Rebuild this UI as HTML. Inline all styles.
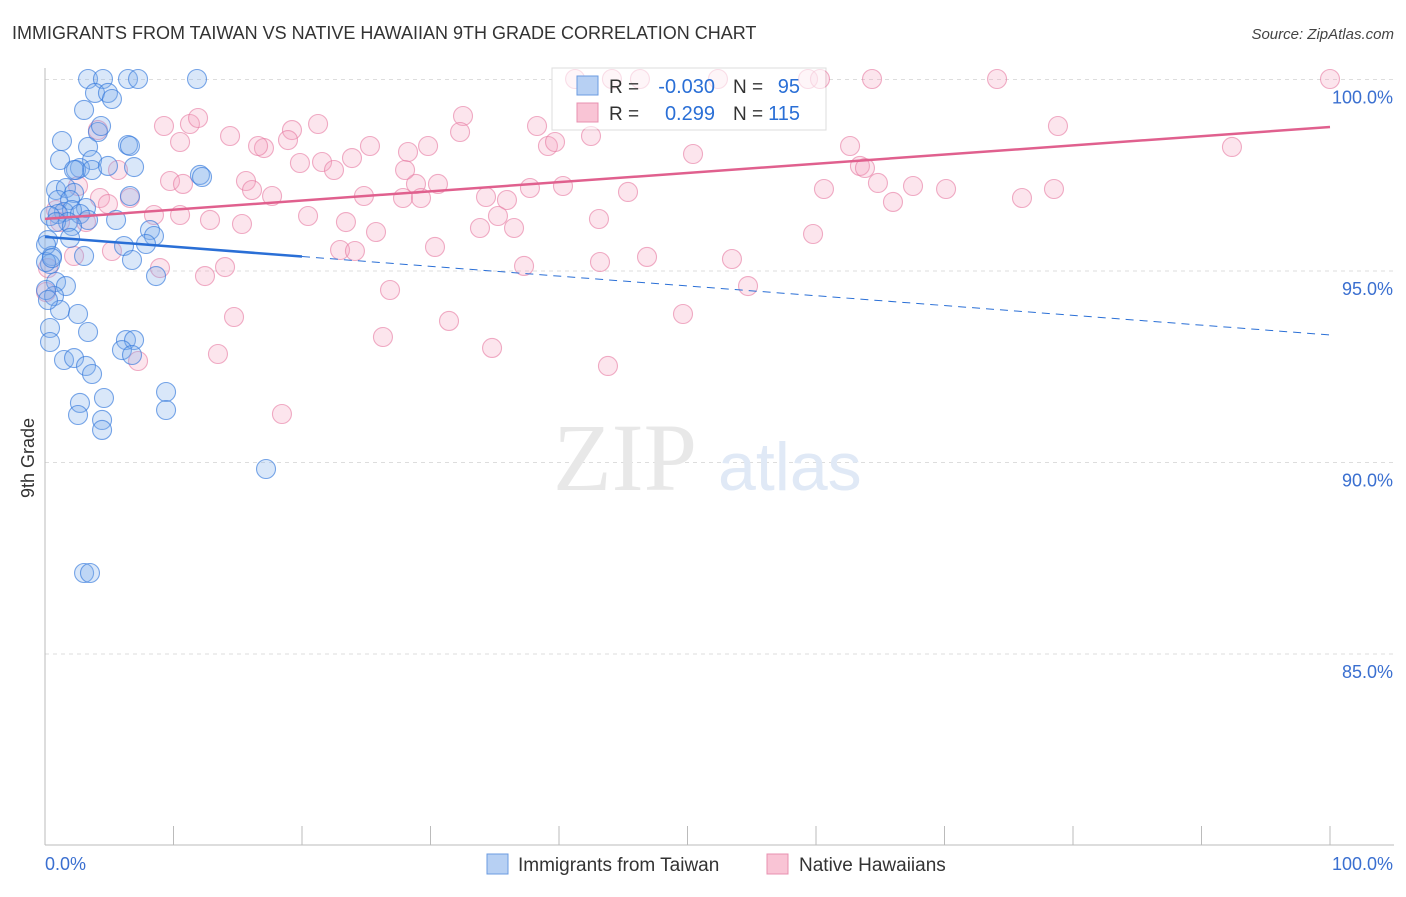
<!DOCTYPE html>
<html><head><meta charset="utf-8"><style>
body{margin:0;background:#fff;font-family:"Liberation Sans",sans-serif}
</style></head><body>
<svg id="c" width="1406" height="892" xmlns="http://www.w3.org/2000/svg"></svg>
<script>
const blueData=[[88,79],[103,79],[128,79],[138,79],[197,79],[95,93],[108,93],[112,99],[84,110],[98,132],[101,126],[62,141],[88,147],[128,145],[130,146],[60,160],[92,160],[80,168],[76,170],[92,170],[74,170],[108,166],[134,167],[200,175],[202,177],[56,190],[66,188],[74,193],[130,196],[58,200],[70,200],[86,208],[64,212],[72,210],[80,214],[58,214],[50,216],[68,222],[88,220],[116,220],[56,222],[72,226],[150,230],[154,236],[48,240],[70,238],[124,246],[146,244],[52,256],[84,256],[132,260],[50,264],[156,276],[56,282],[66,286],[54,296],[60,310],[78,314],[88,332],[50,328],[50,342],[64,360],[74,358],[86,366],[92,374],[126,340],[134,340],[122,350],[132,355],[80,403],[104,398],[78,415],[102,420],[166,392],[166,410],[102,430],[266,469],[84,573],[90,573],[46,290],[46,262],[46,245],[52,258],[48,300]].map(p=>[+((p[0]-45)/12.85).toFixed(2),+(100-(p[1]-79.5)/38.3).toFixed(3)]);
const pinkData=[[1330,79],[575,79],[612,79],[640,79],[718,79],[808,79],[820,79],[872,79],[997,79],[98,130],[164,126],[190,124],[198,118],[180,142],[230,136],[264,148],[292,130],[258,146],[288,140],[318,124],[370,146],[408,152],[428,146],[463,116],[460,132],[537,126],[548,146],[555,142],[591,136],[693,154],[850,146],[1058,126],[1232,147],[118,170],[170,181],[183,184],[246,181],[252,190],[272,196],[300,163],[322,162],[334,170],[352,158],[364,196],[416,184],[405,170],[438,184],[403,198],[421,198],[486,197],[507,200],[530,188],[563,186],[628,192],[860,166],[865,168],[878,183],[893,202],[913,186],[946,189],[1022,198],[1054,189],[824,189],[78,186],[100,198],[108,204],[130,198],[154,215],[180,215],[86,222],[210,220],[242,224],[308,216],[346,222],[376,232],[480,228],[498,216],[514,228],[599,219],[813,234],[112,251],[74,256],[160,268],[205,276],[225,267],[340,250],[355,251],[435,247],[524,266],[600,262],[647,257],[732,259],[748,286],[390,290],[234,317],[449,321],[683,314],[383,337],[492,348],[218,354],[138,361],[608,366],[282,414],[46,292],[48,268],[60,222],[56,210]].map(p=>[+((p[0]-45)/12.85).toFixed(2),+(100-(p[1]-79.5)/38.3).toFixed(3)]);
const yTicks=[100,95,90,85];
const yTickLabels=["100.0%","95.0%","90.0%","85.0%"];
const blueTrend=[95.89,93.33];
const pinkTrend=[96.36,98.76];

const X=v=>45+v*12.85, Y=v=>79.5+(100-v)*38.3;
const svg=document.getElementById('c'), NS='http://www.w3.org/2000/svg';
function mk(t,a,txt){const e=document.createElementNS(NS,t);for(const k in a)e.setAttribute(k,a[k]);if(txt!=null)e.textContent=txt;svg.appendChild(e);return e;}
let e;
e=mk('text',{x:12,y:39,'font-size':18,fill:'#333'},'IMMIGRANTS FROM TAIWAN VS NATIVE HAWAIIAN 9TH GRADE CORRELATION CHART');


e=mk('text',{x:1394,y:39,'font-size':15,fill:'#444','text-anchor':'end','font-style':'italic'},'Source: ZipAtlas.com');


yTicks.forEach((t,i)=>{
 e=mk('line',{x1:45,x2:1394,y1:Y(t),y2:Y(t),stroke:'#ddd','stroke-dasharray':'4,4'});
 
 
 e=mk('text',{x:1393,y:Y(t)+24,'font-size':18,fill:'#3a6fd0','text-anchor':'end'},yTickLabels[i]);
 
 
});
e=mk('line',{x1:45,x2:45,y1:68,y2:845,stroke:'#bbb'});


e=mk('line',{x1:45,x2:1394,y1:845,y2:845,stroke:'#bbb'});


for(let i=0;i<=10;i++){e=mk('line',{x1:X(i*10),x2:X(i*10),y1:826,y2:845,stroke:'#bbb'});
 
 }
e=mk('text',{x:45,y:870,'font-size':18,fill:'#3a6fd0'},'0.0%');


e=mk('text',{x:1393,y:870,'font-size':18,fill:'#3a6fd0','text-anchor':'end'},'100.0%');


e=mk('text',{x:34,y:458,'font-size':18,fill:'#333','text-anchor':'middle',transform:'rotate(-90 34 458)'},'9th Grade');


e=mk('text',{x:553,y:490,'font-size':96,fill:'#e8e8e8','font-family':'Liberation Serif'},'ZIP');


e=mk('text',{x:718,y:490,'font-size':68,fill:'#e0e9f6'},'atlas');


// legend box (behind points)
e=mk('rect',{x:552,y:68,width:274,height:62,fill:'#fff',stroke:'#ddd'});


pinkData.forEach(p=>{e=mk('circle',{cx:X(p[0]),cy:Y(p[1]),r:9.5,fill:'rgba(244,160,190,0.28)',stroke:'rgba(230,120,160,0.6)','stroke-width':1.1});
 
 });
blueData.forEach(p=>{e=mk('circle',{cx:X(p[0]),cy:Y(p[1]),r:9.5,fill:'rgba(130,175,235,0.3)',stroke:'rgba(50,120,220,0.65)','stroke-width':1.1});
 
 });
const bAt=x=>blueTrend[0]+(blueTrend[1]-blueTrend[0])*x/100;
e=mk('line',{x1:X(0),y1:Y(bAt(0)),x2:X(20),y2:Y(bAt(20)),stroke:'#2a6fd6','stroke-width':2.5});


e=mk('line',{x1:X(20),y1:Y(bAt(20)),x2:X(100),y2:Y(bAt(100)),stroke:'#2a6fd6','stroke-width':1,'stroke-dasharray':'8,6'});


e=mk('line',{x1:X(0),y1:Y(pinkTrend[0]),x2:X(100),y2:Y(pinkTrend[1]),stroke:'#e0608e','stroke-width':2.5});


e=mk('rect',{x:553,y:69,width:272,height:60,fill:'rgba(255,255,255,0.6)'});


e=mk('rect',{x:577,y:76,width:21,height:19,fill:'#b7d0f3',stroke:'#6b9be0'});


e=mk('rect',{x:577,y:103,width:21,height:19,fill:'#f9c4d5',stroke:'#e890b0'});


[[93,'-0.030','95'],[120,'0.299','115']].forEach((r,i)=>{
 e=mk('text',{x:609,y:r[0],'font-size':19,fill:'#333'},'R = ');
 
 
 e=mk('text',{x:715,y:r[0],'font-size':20,fill:'#2a6fd6','text-anchor':'end'},r[1]);
 
 
 e=mk('text',{x:733,y:r[0],'font-size':19,fill:'#333'},'N = ');
 
 
 e=mk('text',{x:800,y:r[0],'font-size':20,fill:'#2a6fd6','text-anchor':'end'},r[2]);
 
 
});
e=mk('rect',{x:487,y:854,width:21,height:20,fill:'#b7d0f3',stroke:'#6b9be0'});


e=mk('text',{x:518,y:871,'font-size':19,fill:'#333'},'Immigrants from Taiwan');


e=mk('rect',{x:767,y:854,width:21,height:20,fill:'#f9c4d5',stroke:'#e890b0'});


e=mk('text',{x:799,y:871,'font-size':19,fill:'#333'},'Native Hawaiians');


</script>
</body></html>
